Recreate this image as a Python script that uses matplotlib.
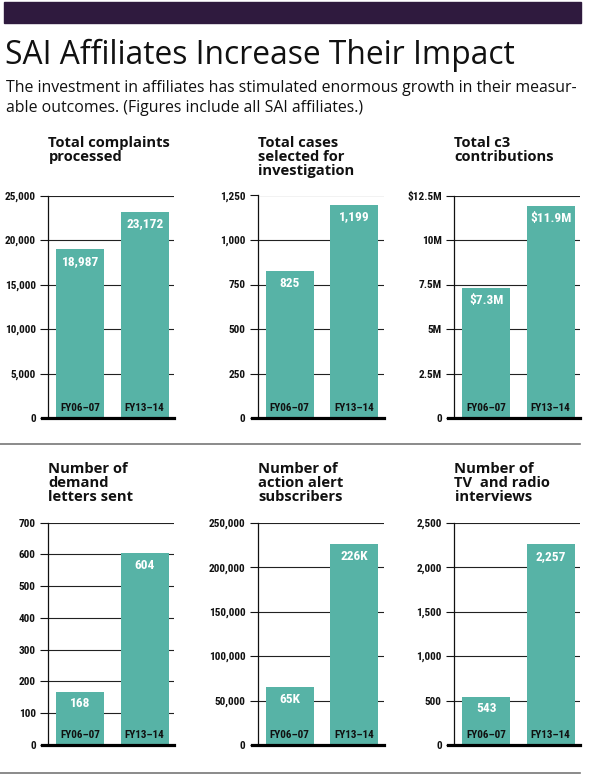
import matplotlib
matplotlib.use("Agg")
import matplotlib.pyplot as plt
from matplotlib.patches import Rectangle
from matplotlib.lines import Line2D

W, H = 592, 776
TEAL = "#57b3a6"
PURPLE = "#2f1a3e"
COND = ["Roboto Condensed", "Roboto", "DejaVu Sans"]
SANS = ["Open Sans", "Lato", "DejaVu Sans"]

# --- dados ---
periods = ["FY06–07", "FY13–14"]

titles = [
    ["Total complaints", "processed"],
    ["Total cases", "selected for", "investigation"],
    ["Total c3", "contributions"],
    ["Number of", "demand", "letters sent"],
    ["Number of", "action alert", "subscribers"],
    ["Number of", "TV  and radio", "interviews"],
]

complaints = [18987, 23172]
complaints_lbl = ["18,987", "23,172"]
complaints_ticks = [0, 5000, 10000, 15000, 20000, 25000]
complaints_tick_lbl = ["0", "5,000", "10,000", "15,000", "20,000", "25,000"]

cases = [825, 1199]
cases_lbl = ["825", "1,199"]
cases_ticks = [0, 250, 500, 750, 1000, 1250]
cases_tick_lbl = ["0", "250", "500", "750", "1,000", "1,250"]

c3_musd = [7.3, 11.9]
c3_lbl = ["$7.3M", "$11.9M"]
c3_ticks = [0, 2.5, 5, 7.5, 10, 12.5]
c3_tick_lbl = ["0", "2.5M", "5M", "7.5M", "10M", "$12.5M"]

letters = [168, 604]
letters_lbl = ["168", "604"]
letters_ticks = [0, 100, 200, 300, 400, 500, 600, 700]
letters_tick_lbl = ["0", "100", "200", "300", "400", "500", "600", "700"]

subscribers = [65000, 226000]
subscribers_lbl = ["65K", "226K"]
subscribers_ticks = [0, 50000, 100000, 150000, 200000, 250000]
subscribers_tick_lbl = ["0", "50,000", "100,000", "150,000", "200,000", "250,000"]

interviews = [543, 2257]
interviews_lbl = ["543", "2,257"]
interviews_ticks = [0, 500, 1000, 1500, 2000, 2500]
interviews_tick_lbl = ["0", "500", "1,000", "1,500", "2,000", "2,500"]

panels = [
    (complaints, complaints_lbl, complaints_ticks, complaints_tick_lbl),
    (cases, cases_lbl, cases_ticks, cases_tick_lbl),
    (c3_musd, c3_lbl, c3_ticks, c3_tick_lbl),
    (letters, letters_lbl, letters_ticks, letters_tick_lbl),
    (subscribers, subscribers_lbl, subscribers_ticks, subscribers_tick_lbl),
    (interviews, interviews_lbl, interviews_ticks, interviews_tick_lbl),
]


def fx(px):
    return px / W


def fy(py):
    return 1 - py / H


def fit(txt, largura):
    """ajusta o tamanho da fonte para o texto ocupar 'largura' pixels"""
    w = txt.get_window_extent(fig.canvas.get_renderer()).width
    txt.set_fontsize(txt.get_fontsize() * largura / w)
    return txt.get_fontsize()


fig = plt.figure(figsize=(W / 100, H / 100), dpi=100)
fig.patch.set_facecolor("white")

# faixa roxa do topo
fig.patches.append(Rectangle((fx(4), fy(22.7)), fx(581) - fx(4), fy(2) - fy(22.7),
                             transform=fig.transFigure, color=PURPLE, zorder=0))

t = fig.text(fx(5), fy(63.5), "SAI Affiliates Increase Their Impact", family=SANS,
             fontsize=20, color="#111111", va="baseline", ha="left")
fit(t, 508)
sub = ["The investment in affiliates has stimulated enormous growth in their measur-",
       "able outcomes. (Figures include all SAI affiliates.)"]
st = [fig.text(fx(6), fy(91.7 + 20 * i), s, family=SANS, fontsize=11,
               color="#111111", va="baseline", ha="left") for i, s in enumerate(sub)]
fs = fit(st[0], 572)
st[1].set_fontsize(fs)

# separadores cinza
for yy in (443.5, 773):
    fig.add_artist(Line2D([fx(0), fx(580)], [fy(yy), fy(yy)], transform=fig.transFigure,
                          color="#777777", lw=1.2))

col_left = [48, 257.5, 454]
row_top = [195.5, 522.7]
row_zero = [418, 745]
title_base = [146.7, 473.3]
AX_W = 126.4

title_fs = None
for k, (vals, vlbl, ticks, tlbl) in enumerate(panels):
    r, c = divmod(k, 3)
    x0 = col_left[c]
    ax = fig.add_axes([fx(x0), fy(row_zero[r]), AX_W / W, (row_zero[r] - row_top[r]) / H])
    ax.bar([0, 1], vals, width=0.74, color=TEAL, zorder=2)
    ax.set_xlim(-0.5, 1.46)
    ax.set_ylim(0, ticks[-1])
    ax.set_yticks(ticks)
    ax.set_yticklabels(tlbl, family=COND, fontweight="bold", fontsize=8.1, color="#111111")
    ax.set_xticks([])
    ax.tick_params(axis="y", length=5.8, width=0.8, pad=3.0, color="#111111")
    ax.yaxis.grid(True, color="#222222", lw=0.8)
    ax.set_axisbelow(True)
    for s in ("top", "right", "bottom"):
        ax.spines[s].set_visible(False)
    ax.spines["left"].set_color("#111111")
    ax.spines["left"].set_linewidth(0.9)
    ax.axhline(0, xmin=-0.047, xmax=1, color="black", lw=2.3, clip_on=False, zorder=4)

    for i, v in enumerate(vals):
        ax.annotate(vlbl[i], (i, v), xytext=(0, -8.8), textcoords="offset points",
                    ha="center", va="center", color="white", family=COND,
                    fontweight="bold", fontsize=9.6, zorder=5)
        ax.annotate(periods[i], (i, 0), xytext=(0, 6.9), textcoords="offset points",
                    ha="center", va="center", color="#111111", family=COND,
                    fontweight="bold", fontsize=8.0, zorder=5)

    for j, line in enumerate(titles[k]):
        tt = fig.text(fx(x0 + 0.5), fy(title_base[r] + 14 * j), line, family=SANS,
                      fontweight="bold", fontsize=10 if title_fs is None else title_fs,
                      color="#111111", va="baseline")
        if title_fs is None:
            title_fs = fit(tt, 123)

fig.savefig("out.png", dpi=100)
